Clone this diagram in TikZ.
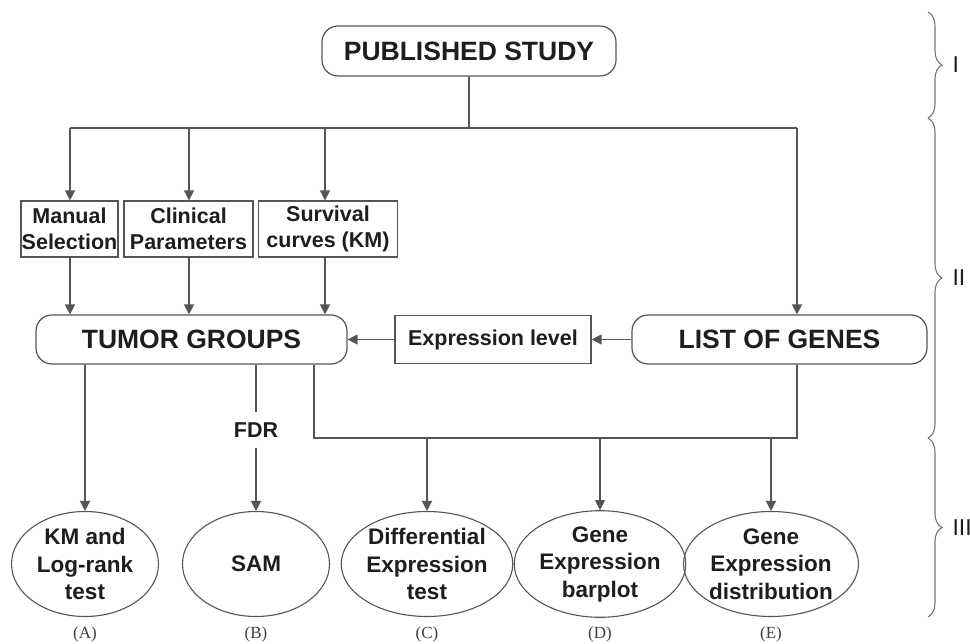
\documentclass[tikz,border=0pt]{standalone}
\usepackage{fontspec}
\setmainfont{Liberation Sans}
\newfontfamily\serifnum{Liberation Serif}
\usetikzlibrary{arrows.meta,shapes.geometric,decorations.pathreplacing}
\definecolor{ln}{HTML}{555555}
\definecolor{tx}{HTML}{1E1E1E}
\tikzset{
  big/.style={draw=ln, line width=1.2pt, rounded corners=16pt, inner sep=0pt, text=tx,
    font=\bfseries\fontsize{26.5}{30}\selectfont},
  sbox/.style={draw=ln, line width=1.2pt, inner sep=0pt, text=tx, align=center,
    font=\bfseries\fontsize{21.5}{26}\selectfont},
  ell/.style={draw=ln, line width=1.1pt, ellipse, inner sep=0pt, minimum width=147pt,
    minimum height=105pt, text=tx, align=center, font=\bfseries\fontsize{22.5}{27.5}\selectfont},
  lab/.style={text=tx!85, font=\serifnum\fontsize{17}{20}\selectfont},
  conn/.style={draw=ln, line width=1.3pt},
  arr/.style={conn, -{Triangle[length=10pt,width=10pt]}},
  brc/.style={draw=ln!80, line width=1.1pt, decorate, decoration={brace, amplitude=14pt}},
  roman/.style={text=tx, anchor=west, font=\fontsize{23}{26}\selectfont}
}
\begin{document}
\begin{tikzpicture}[x=1pt,y=-1pt]
\useasboundingbox[fill=white] (0,0) rectangle (970,644);

% nodes
\node[big, minimum width=294pt, minimum height=50pt] (pub) at (469,51) {PUBLISHED STUDY};
\node[sbox, minimum width=97pt, minimum height=56pt] (man) at (69.5,229) {Manual\\Selection};
\node[sbox, minimum width=129pt, minimum height=56pt] (clin) at (188.5,229) {Clinical\\Parameters};
\node[sbox, minimum width=139pt, minimum height=56pt] (surv) at (328,229) {Survival\\curves (KM)};
\node[big, minimum width=311pt, minimum height=49pt] (tumor) at (191.5,339.5) {TUMOR GROUPS};
\node[sbox, minimum width=196pt, minimum height=48pt] (expr) at (493,339.5) {Expression level};
\node[big, minimum width=295pt, minimum height=49pt] (genes) at (779.5,339.5) {LIST OF GENES};

\node[ell] (A) at (85,564) {KM and\\Log-rank\\test};
\node[ell] (B) at (256,564) {SAM};
\node[ell] (C) at (427,564) {Differential\\Expression\\test};
\node[ell] (D) at (600,564) {Gene\\Expression\\barplot};
\node[ell] (E) at (771,564) {Gene\\Expression\\distribution};

\node[lab] (la) at (85,634) {(A)};
\node[lab] (lb) at (256,634) {(B)};
\node[lab] (lc) at (427,634) {(C)};
\node[lab] (ld) at (600,634) {(D)};
\node[lab] (le) at (771,634) {(E)};

\node[text=tx, inner sep=0pt, minimum height=35pt, font=\bfseries\fontsize{21.5}{26}\selectfont] (fdr) at (256,430) {FDR};

% coordinates
\coordinate (hl) at (70,128);
\coordinate (hc) at (189,128);
\coordinate (hs) at (325,128);
\coordinate (hr) at (797,128);
\coordinate (bl) at (314,438);
\coordinate (br) at (797,438);

% top distribution
\draw[conn] (pub.south) -- (pub.south |- hl);
\draw[conn] (hl) -- (hr);
\draw[arr] (hl) -- (hl |- man.north);
\draw[arr] (hc) -- (hc |- clin.north);
\draw[arr] (hs) -- (hs |- surv.north);
\draw[arr] (hr) -- (hr |- genes.north);

% boxes to tumor groups
\draw[arr] (hl |- man.south) -- (hl |- tumor.north);
\draw[arr] (hc |- clin.south) -- (hc |- tumor.north);
\draw[arr] (hs |- surv.south) -- (hs |- tumor.north);

% genes -> expression -> tumor
\draw[arr] (genes.west) -- (expr.east);
\draw[arr] (expr.west) -- (tumor.east);

% bottom
\draw[arr] (A.north |- tumor.south) -- (A.north);
\draw[conn] (B.north |- tumor.south) -- (fdr.north);
\draw[arr] (fdr.south) -- (B.north);
\draw[conn] (bl |- tumor.south) -- (bl) -- (br) -- (br |- genes.south);
\draw[arr] (C.north |- bl) -- (C.north);
\draw[arr] (D.north |- bl) -- (D.north);
\draw[arr] (E.north |- bl) -- (E.north);

% braces
\coordinate (b0) at (928,12);
\coordinate (b1) at (928,118);
\coordinate (b2) at (928,438);
\coordinate (b3) at (928,617);
\draw[brc] (b0) -- (b1);
\draw[brc] (b1) -- (b2);
\draw[brc] (b2) -- (b3);
\node[roman] (r1) at (949,65) {I};
\node[roman] (r2) at (949,278) {II};
\node[roman] (r3) at (949,528) {III};
\end{tikzpicture}
\end{document}
